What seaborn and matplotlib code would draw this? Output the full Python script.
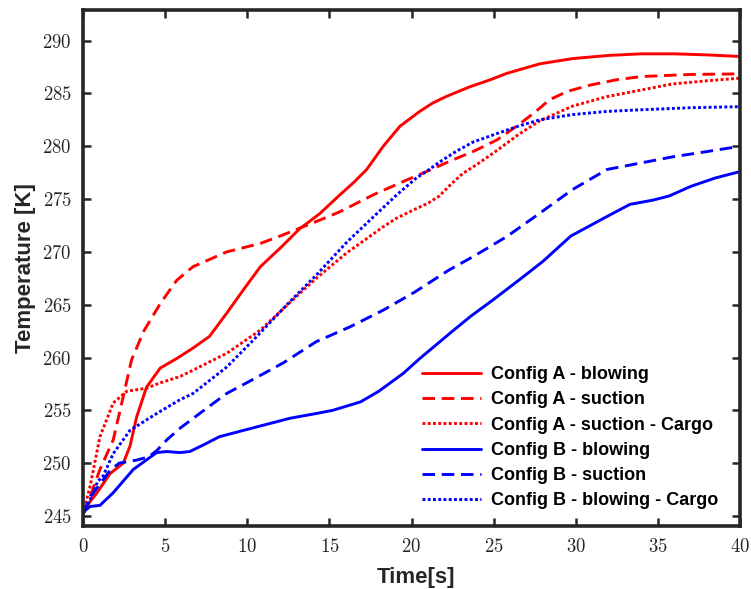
import numpy as np
import pandas as pd
import matplotlib
matplotlib.use("Agg")
import matplotlib.pyplot as plt
from matplotlib.ticker import FuncFormatter
import seaborn as sns

# ---------------- data ----------------
a_blow_t = [0, 0.4, 0.83, 1.64, 2.45, 2.86, 3.27, 3.87, 4.7, 5.7, 6.7, 7.7, 8.75, 9.76,
            10.8, 12.0, 13.2, 14.4, 15.64, 16.5, 17.27, 18.28, 19.3, 20.5, 21.3, 22.1,
            23.5, 24.8, 25.8, 27.8, 29.8, 32.0, 34.0, 36.0, 38.0, 40.0]
a_blow_T = [245.2, 246.3, 247.15, 249.0, 250.0, 251.6, 254.4, 257.2, 259.0, 259.9, 260.9,
            262.0, 264.2, 266.4, 268.6, 270.35, 272.2, 273.6, 275.4, 276.6, 277.8, 280.0,
            281.9, 283.3, 284.1, 284.7, 285.6, 286.3, 286.9, 287.8, 288.3, 288.6, 288.75,
            288.75, 288.65, 288.5]

a_suc_t = [0, 0.22, 1.03, 1.84, 2.45, 2.96, 3.7, 4.7, 5.7, 6.7, 8.75, 10.8, 12.0, 14.4,
           15.64, 17.67, 19.7, 20.9, 22.5, 23.75, 25.2, 26.4, 27.5, 28.4, 29.5, 30.9, 32.5,
           34.0, 37.0, 40.0]
a_suc_T = [245.2, 245.9, 249.4, 252.2, 256.3, 259.8, 262.5, 265.1, 267.3, 268.6, 270.0,
           270.8, 271.5, 273.0, 273.8, 275.4, 276.8, 277.6, 278.7, 279.5, 280.6, 281.9,
           283.2, 284.4, 285.2, 285.8, 286.3, 286.6, 286.8, 286.85]

a_cargo_t = [0, 0.43, 1.03, 1.84, 2.66, 3.87, 4.7, 5.9, 6.7, 8.75, 10.8, 12.8, 14.2, 16.05,
             18.3, 19.1, 20.3, 21.0, 21.7, 22.4, 23.1, 24.0, 25.2, 26.5, 27.8, 29.8, 31.9,
             33.9, 35.9, 38.0, 40.0]
a_cargo_T = [245.2, 247.8, 252.5, 255.7, 256.8, 257.1, 257.6, 258.2, 258.8, 260.4, 262.6,
             265.5, 267.5, 269.9, 272.4, 273.2, 274.1, 274.6, 275.3, 276.4, 277.4, 278.3,
             279.6, 281.1, 282.4, 283.8, 284.7, 285.3, 285.9, 286.2, 286.45]

b_blow_t = [0, 0.12, 0.43, 1.03, 1.84, 3.06, 4.48, 5.1, 5.9, 6.5, 7.3, 8.3, 9.76, 11.0,
            12.6, 14.2, 15.2, 16.9, 18.0, 19.5, 20.5, 21.5, 22.5, 23.6, 25.0, 26.6, 28.0,
            29.7, 31.9, 33.3, 34.7, 35.7, 37.0, 38.5, 40.0]
b_blow_T = [245.2, 245.5, 245.9, 246.0, 247.2, 249.4, 251.0, 251.1, 251.0, 251.1, 251.7,
            252.5, 253.1, 253.6, 254.25, 254.7, 255.0, 255.8, 256.8, 258.5, 259.9, 261.2,
            262.5, 263.9, 265.5, 267.4, 269.1, 271.5, 273.35, 274.5, 274.9, 275.3, 276.2,
            277.0, 277.6]

b_suc_t = [0, 0.43, 0.83, 1.64, 2.2, 3.3, 4.0, 4.5, 5.1, 5.9, 7.1, 8.75, 10.2, 12.2, 14.2,
           16.25, 18.3, 20.2, 22.3, 23.75, 25.8, 27.8, 29.8, 31.9, 33.9, 35.9, 38.0, 40.0]
b_suc_T = [245.2, 246.8, 247.6, 249.3, 250.0, 250.3, 250.6, 251.2, 252.2, 253.3, 254.7,
           256.6, 257.8, 259.5, 261.5, 262.9, 264.5, 266.2, 268.3, 269.55, 271.45, 273.65,
           275.9, 277.8, 278.4, 279.0, 279.5, 280.0]

b_cargo_t = [0, 0.43, 0.9, 1.2, 1.84, 2.86, 3.87, 4.7, 5.9, 6.7, 8.75, 10.4, 12.6, 14.2,
             16.05, 17.67, 19.1, 20.3, 20.9, 21.7, 22.7, 23.75, 25.2, 26.5, 27.8, 29.8,
             31.9, 33.9, 37.0, 40.0]
b_cargo_T = [245.2, 246.5, 248.3, 248.7, 250.9, 253.1, 254.1, 254.9, 256.0, 256.6, 259.1,
             261.7, 265.3, 267.8, 270.9, 273.3, 275.4, 277.0, 277.6, 278.5, 279.5, 280.4,
             281.2, 281.9, 282.5, 283.0, 283.3, 283.45, 283.65, 283.75]

labels = ["Config A - blowing", "Config A - suction", "Config A - suction - Cargo",
          "Config B - blowing", "Config B - suction", "Config B - blowing - Cargo"]
x_ticks = [0, 5, 10, 15, 20, 25, 30, 35, 40]
y_ticks = [245, 250, 255, 260, 265, 270, 275, 280, 285, 290]

series = [(a_blow_t, a_blow_T), (a_suc_t, a_suc_T), (a_cargo_t, a_cargo_T),
          (b_blow_t, b_blow_T), (b_suc_t, b_suc_T), (b_cargo_t, b_cargo_T)]

# ---------------- styling ----------------
sns.set_style("ticks")
plt.rcParams["mathtext.fontset"] = "cm"
plt.rcParams["font.family"] = ["Liberation Sans", "DejaVu Sans"]

colors = ["#ff0000", "#ff0000", "#ff0000", "#0000ff", "#0000ff", "#0000ff"]
dash_styles = [None, (4.3, 2.3), (1.0, 0.8), None, (4.3, 2.3), (1.0, 0.8)]

fig = plt.figure(figsize=(7.51, 5.89), dpi=100)
ax = fig.add_axes([83 / 751, 1 - 526 / 589, (740 - 83) / 751, (526 - 10) / 589])

for (t, T), lab, c, d in zip(series, labels, colors, dash_styles):
    df = pd.DataFrame({"Time": t, "Temperature": T})
    kw = dict(color=c, linewidth=2.1, label=lab, ax=ax, estimator=None, sort=False)
    if d is not None:
        kw["dashes"] = d
        kw["dash_capstyle"] = "butt"
    sns.lineplot(data=df, x="Time", y="Temperature", **kw)

ax.set_xlim(0, 40)
ax.set_ylim(244.05, 292.9)
ax.set_xticks(x_ticks)
ax.set_yticks(y_ticks)
fmt = FuncFormatter(lambda v, p: r"$\mathbf{%d}$" % int(round(v)))
ax.xaxis.set_major_formatter(fmt)
ax.yaxis.set_major_formatter(fmt)

for s in ax.spines.values():
    s.set_visible(True)
    s.set_linewidth(2.6)
    s.set_color("#262626")

ax.tick_params(axis="both", which="major", direction="in", top=True, right=True,
               length=5.5, width=1.8, color="#262626", labelsize=13.5,
               labelcolor="#262626")
ax.tick_params(axis="x", pad=9)
ax.tick_params(axis="y", pad=8)

ax.set_xlabel("Time[s]", fontsize=16, fontweight="bold", color="#262626")
ax.set_ylabel("Temperature [K]", fontsize=16, fontweight="bold", color="#262626")
ax.xaxis.set_label_coords(0.507, -0.080)
ax.yaxis.set_label_coords(-0.072, 0.5)

leg = ax.legend(loc="lower right", bbox_to_anchor=(0.978, 0.018), frameon=False,
                prop={"family": "Liberation Sans", "weight": "bold", "size": 13},
                handlelength=3.3, handletextpad=0.55, labelspacing=0.46,
                borderaxespad=0.0)
for txt in leg.get_texts():
    txt.set_color("black")

fig.savefig("out.png", dpi=100)
